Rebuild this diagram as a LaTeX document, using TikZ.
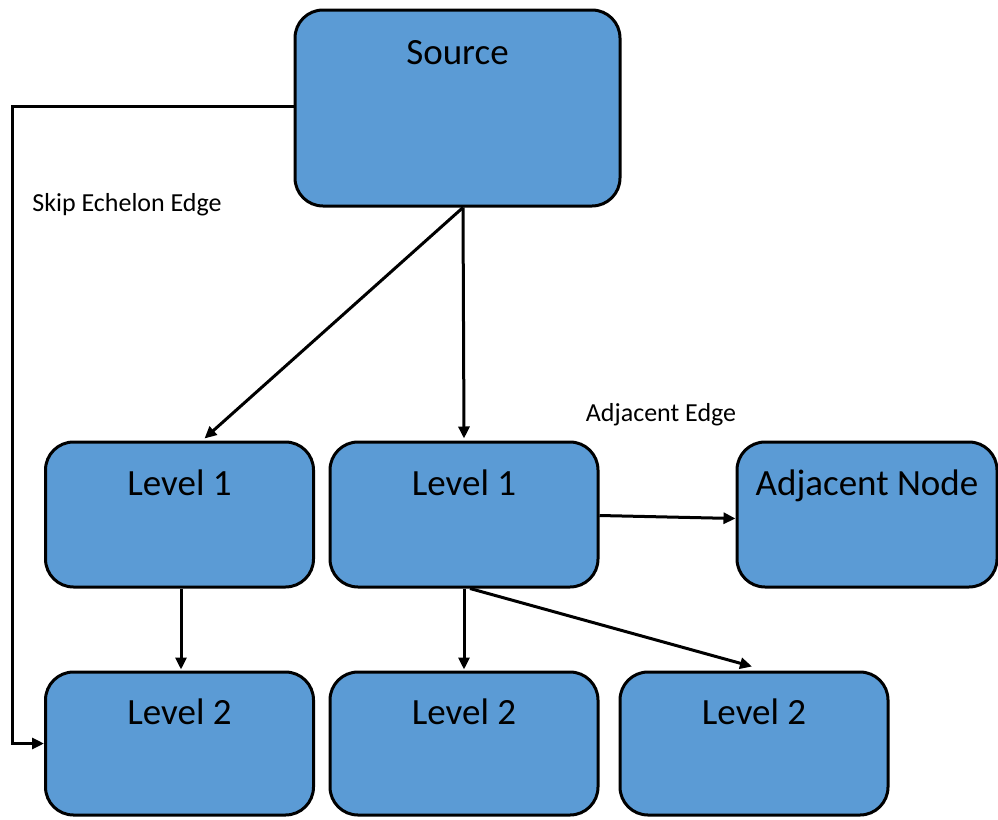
\documentclass[tikz,border=0pt]{standalone}
\usepackage{fontspec}
\setmainfont{Carlito}
\usetikzlibrary{arrows.meta}
\definecolor{boxblue}{HTML}{5B9BD5}
\tikzset{
  box/.style={draw=black, line width=3pt, fill=boxblue, rounded corners=28pt,
    inner sep=0pt, font=\fontsize{37}{44}\selectfont, text height=30pt},
  bigbox/.style={box, minimum width=325pt, minimum height=196pt, text depth=118pt},
  lvbox/.style={box, minimum width=268pt, minimum height=145pt, text depth=69pt},
  conn/.style={line width=3pt, -{Triangle[length=12pt,width=11pt]}},
  edgelabel/.style={font=\fontsize{26}{30}\selectfont, inner sep=0pt}
}
\begin{document}
\begin{tikzpicture}[x=1pt,y=-1pt]
\useasboundingbox (0,0) rectangle (998,819);
\node[bigbox] (src) at (457.5,108) {Source};
\node[lvbox] (l1a) at (179.5,514.5) {Level 1};
\node[lvbox] (l1b) at (464,514.5) {Level 1};
\node[lvbox, minimum width=260pt] (adj) at (867,514.5) {Adjacent Node};
\node[lvbox, minimum height=143pt] (l2a) at (179.5,743.5) {Level 2};
\node[lvbox, minimum height=143pt] (l2b) at (464,743.5) {Level 2};
\node[lvbox, minimum height=143pt] (l2c) at (754,743.5) {Level 2};
\node[edgelabel] (skiplab) at (127,205) {Skip Echelon Edge};
\node[edgelabel] (adjlab) at (661,415) {Adjacent Edge};
\coordinate (skipc) at (12,743.5);
\draw[conn] ([yshift=2pt]src.west) -| (skipc) |- (l2a.west);
\draw[conn] ([xshift=5.5pt]src.south) -- ([xshift=25pt,yshift=2pt]l1a.north);
\draw[conn] ([xshift=5.5pt]src.south) -- ([yshift=2pt]l1b.north);
\draw[conn] ([yshift=-1pt]l1b.east) -- ([yshift=-4pt]adj.west);
\draw[conn] ([xshift=1.5pt]l1a.south) -- ([xshift=1.5pt,yshift=1pt]l2a.north);
\draw[conn] (l1b.south) -- ([yshift=1pt]l2b.north);
\draw[conn] ([xshift=6pt]l1b.south) -- ([xshift=-2pt,yshift=4pt]l2c.north);
\end{tikzpicture}
\end{document}
